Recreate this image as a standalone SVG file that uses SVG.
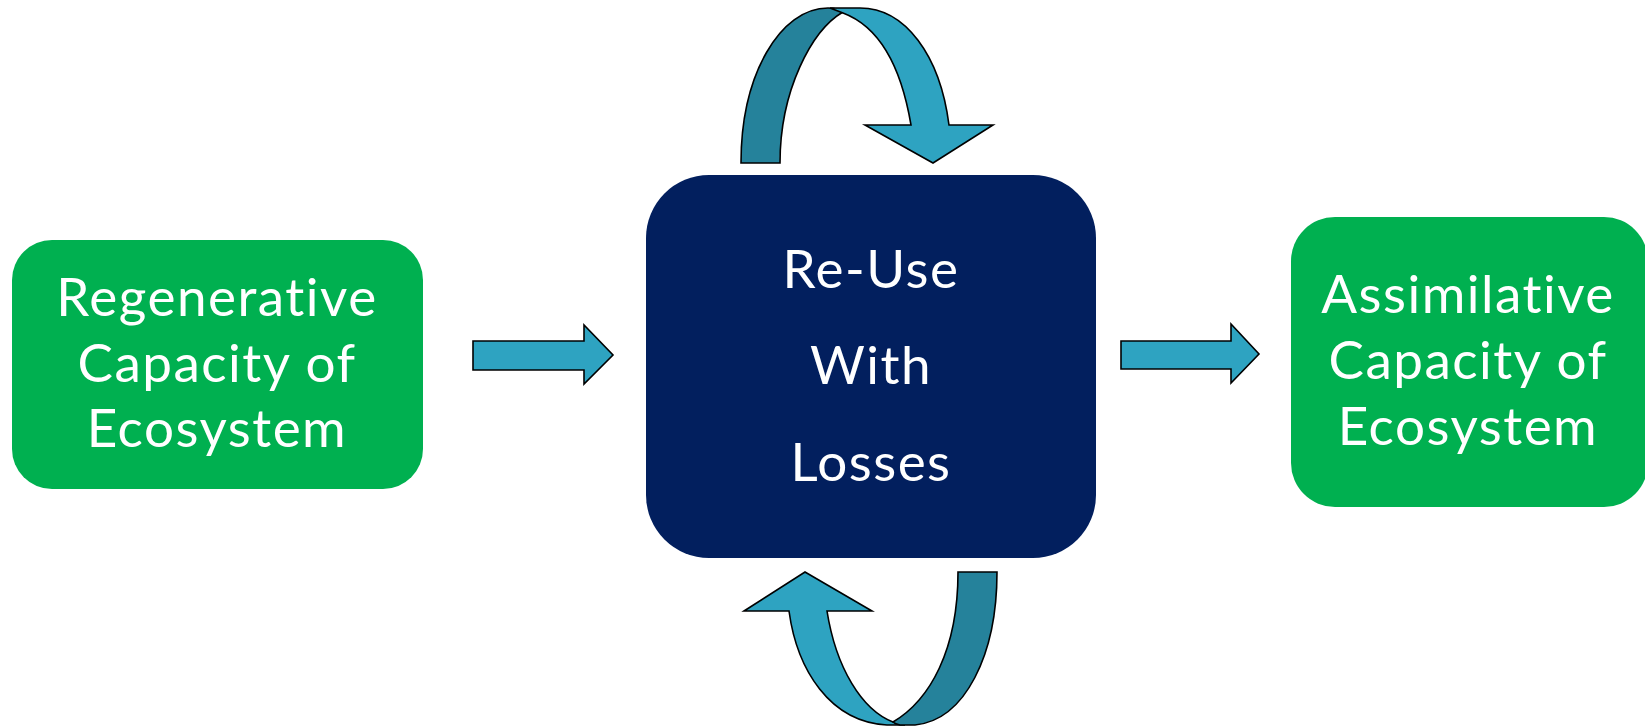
<svg xmlns="http://www.w3.org/2000/svg" width="1645" height="727" viewBox="0 0 1645 727">
<style>
.lbl{font-family:Lato,"Open Sans","Liberation Sans",sans-serif;font-size:53px;letter-spacing:1.5px;fill:#ffffff;text-anchor:middle}
.light{fill:#2EA3C1;stroke:#000;stroke-width:1.6;stroke-linejoin:miter}
.dark{fill:#25829B;stroke:#000;stroke-width:1.6;stroke-linejoin:miter}
</style>
<rect width="1645" height="727" fill="#ffffff"/>
<g id="regenerative">
<rect x="12" y="240" width="411" height="249" rx="40" fill="#00B050"/>
<text class="lbl"><tspan x="217" y="316">Regenerative</tspan><tspan x="217" y="382">Capacity of</tspan><tspan x="217" y="447">Ecosystem</tspan></text>
</g>
<g id="reuse">
<rect x="646" y="175" width="450" height="383" rx="63" fill="#021F5E"/>
<text class="lbl"><tspan x="871" y="288">Re-Use</tspan><tspan x="871" y="384">With</tspan><tspan x="871" y="481">Losses</tspan></text>
</g>
<g id="assimilative">
<rect x="1291" y="217" width="357" height="290" rx="44" fill="#00B050"/>
<text class="lbl"><tspan x="1468" y="313">Assimilative</tspan><tspan x="1468" y="379">Capacity of</tspan><tspan x="1468" y="445">Ecosystem</tspan></text>
</g>
<g id="connectors">
<path class="light" d="M473,341 L584,341 L584,325 L613,355 L584,384 L584,370 L473,370 Z"/>
<path class="light" d="M1121,341 L1231,341 L1231,324 L1259,354 L1231,383 L1231,369 L1121,369 Z"/>
<path class="dark" d="M741,163 C741,75 780,8 828,8 Q838,8 843,12 C812,30 780,90 780,163 Z"/>
<path class="light" d="M830,8 L860,8 C905,8 940,55 949,125 L993,125 L933,163 L865,125 L911,125 C900,60 875,25 843,13 Z"/>
<path class="light" d="M744,611 L805,572 L872,611 L827,611 C836,668 862,710 893,722 L905,725 L887,725 C830,722 797,670 789,611 Z"/>
<path class="dark" d="M958,572 L997,572 C997,655 965,720 915,725 L900,725 Q895,724 893,722 C930,700 958,650 958,572 Z"/>
</g>
</svg>
